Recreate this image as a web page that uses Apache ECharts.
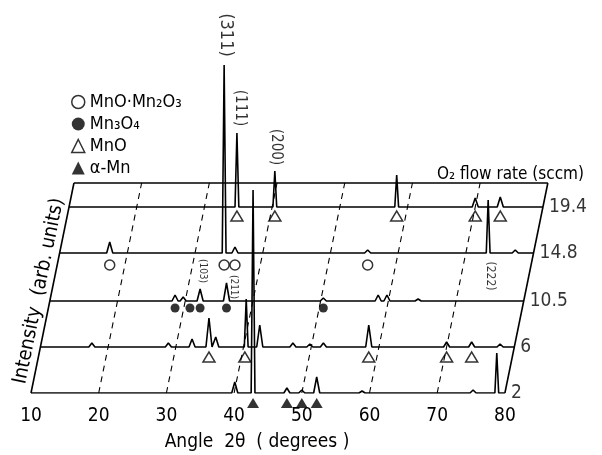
<!DOCTYPE html>
<html>
<head>
<meta charset="utf-8">
<script src="https://cdn.jsdelivr.net/npm/echarts@6/dist/echarts.min.js"></script>
<style>
html, body { margin: 0; padding: 0; background: #fff; }
#xrd { width: 602px; height: 455px; }
</style>
</head>
<body>
<div id="xrd"></div>
<script>
// 2θ ticks on the front pattern and the dashed guide lines
const angleTicks = [10, 20, 30, 40, 50, 60, 70, 80];
const guideAngles = [20, 30, 40, 50, 60, 70];

// O2 flow rates (sccm), front to back, and the baseline of each pattern (arb. units)
const flowRates = ['2', '6', '10.5', '14.8', '19.4'];
const baseLevels = [0, 46, 92, 140, 186];
const backLevel = 210;

// peaks [2θ, height]
const peaks2 = [[40.1, 11], [42.8, 203], [47.8, 5], [50.0, 3], [52.2, 16], [58.9, 2], [75.3, 3], [78.8, 40]];
const peaks6 = [[17.6, 4], [28.9, 4], [32.4, 8], [34.9, 29], [35.9, 10], [40.4, 48], [42.4, 22], [47.3, 4],
  [49.8, 3], [51.8, 4], [58.5, 22], [70.0, 5], [73.7, 5], [77.9, 3]];
const peaks10 = [[28.5, 6], [29.7, 4], [32.2, 12], [36.1, 18], [50.4, 3], [58.5, 6], [59.8, 6], [64.4, 2]];
const peaks14 = [[17.4, 11], [34.3, 188], [35.9, 6], [55.5, 3], [73.3, 53], [77.3, 3]];
const peaks19 = [[34.8, 74], [40.4, 36], [58.4, 32], [70.0, 9], [73.7, 10]];
const allPeaks = [peaks2, peaks6, peaks10, peaks14, peaks19];

// phase markers: 2θ of marked peaks, by pattern
const mnoMn2o3At = [17.4, 34.3, 35.9, 55.5];        // 14.8 sccm
const mn3o4At = [28.5, 30.7, 32.2, 36.1, 50.4];      // 10.5 sccm
const mnoAt19 = [34.8, 40.4, 58.4, 70.0, 73.7];      // 19.4 sccm
const mnoAt6 = [34.9, 40.2, 58.5, 70.0, 73.7];       // 6 sccm
const alphaMnAt = [42.8, 47.8, 50.0, 52.2];          // 2 sccm

// reflection labels: [text, 2θ, pattern index, height]
const hklNotes = [
  ['(311)', 34.6, 3, 218],
  ['(111)', 35.2, 4, 99],
  ['(200)', 40.5, 4, 60],
  ['(103)', 32.5, 2, 30],
  ['(211)', 37.1, 2, 14],
  ['(222)', 73.6, 3, -23]
];
const hklSizes = [18, 15, 15, 10, 10, 12];

const SHEAR = 0.0302; // 2θ shift per unit of height (oblique drawing)
const FONT = '"DejaVu Sans Condensed", "Liberation Sans Narrow", "DejaVu Sans", sans-serif';

function sx(angle, level) {
  return angle + level * SHEAR;
}

function pattern(peaks, level) {
  const pts = [[sx(10, level), level]];
  peaks.forEach(([a, h]) => {
    const w = h > 30 ? 0.28 : 0.45;
    pts.push([sx(a - w, level), level], [sx(a, level), level + h], [sx(a + w, level), level]);
  });
  pts.push([sx(80, level), level]);
  return pts;
}

function markers(list, level, drop) {
  return list.map((a) => [sx(a, baseLevels[level]), baseLevels[level] - drop]);
}

const series = [];

allPeaks.forEach((p, i) => {
  series.push({
    type: 'line', data: pattern(p, baseLevels[i]), symbol: 'none', silent: true,
    lineStyle: { color: '#000', width: 1.6 }
  });
});

// back edge and side edges of the sheet
[
  [[sx(10, backLevel), backLevel], [sx(80, backLevel), backLevel]],
  [[10, 0], [sx(10, backLevel), backLevel]],
  [[80, 0], [sx(80, backLevel), backLevel]]
].forEach((d) => {
  series.push({ type: 'line', data: d, symbol: 'none', silent: true, lineStyle: { color: '#000', width: 1.6 } });
});

guideAngles.forEach((a) => {
  series.push({
    type: 'line', data: [[a, 0], [sx(a, backLevel), backLevel]], symbol: 'none', silent: true,
    lineStyle: { color: '#000', width: 1.1, type: [6, 5] }
  });
});

const hollow = { color: '#fff', borderColor: '#000', borderWidth: 1.5 };
const solid = { color: '#000' };
series.push(
  { name: 'MnO·Mn₂O₃', type: 'scatter', symbol: 'circle', symbolSize: 10, itemStyle: hollow, clip: false,
    data: markers(mnoMn2o3At, 3, 12) },
  { name: 'Mn₃O₄', type: 'scatter', symbol: 'circle', symbolSize: 9, itemStyle: solid, clip: false,
    data: markers(mn3o4At, 2, 7) },
  { name: 'MnO', type: 'scatter', symbol: 'triangle', symbolSize: [12, 10], itemStyle: hollow, clip: false,
    data: markers(mnoAt19, 4, 9).concat(markers(mnoAt6, 1, 10)) },
  { name: 'α-Mn', type: 'scatter', symbol: 'triangle', symbolSize: [12, 10], itemStyle: solid, clip: false,
    data: markers(alphaMnAt, 0, 10) }
);

// flow-rate labels at the right end of each pattern
series.push({
  type: 'scatter', symbolSize: 0, clip: false, silent: true,
  data: flowRates.map((f, i) => ({ value: [sx(80, baseLevels[i]), baseLevels[i]], name: f })),
  label: { show: true, position: 'right', distance: 6, formatter: '{b}', color: '#000',
    fontSize: 19, fontFamily: FONT }
});

// Miller indices, written vertically
series.push({
  type: 'scatter', symbolSize: 0, clip: false, silent: true,
  data: hklNotes.map(([t, a, i, h], j) => ({
    value: [sx(a, baseLevels[i]), baseLevels[i] + h], name: t,
    label: { fontSize: hklSizes[j] }
  })),
  label: { show: true, position: 'inside', rotate: -90, formatter: '{b}', color: '#000', fontFamily: FONT }
});

const chart = echarts.init(document.getElementById('xrd'));
chart.setOption({
  animation: false,
  grid: { left: 31, right: 29.4, top: 0, bottom: 62 },
  xAxis: {
    type: 'value', min: 10, max: 90, interval: 10,
    axisLine: { show: false }, axisTick: { show: false }, splitLine: { show: false },
    axisLabel: {
      margin: 14, color: '#000', fontSize: 19, fontFamily: FONT,
      formatter: (v) => (angleTicks.includes(v) ? String(v) : '')
    }
  },
  yAxis: { type: 'value', min: 0, max: 393, show: false },
  legend: {
    orient: 'vertical', left: 66, top: 88, itemWidth: 13, itemHeight: 13, itemGap: 4,
    selectedMode: false,
    textStyle: { fontSize: 18, fontFamily: FONT, color: '#000', lineHeight: 13 },
    data: [
      { name: 'MnO·Mn₂O₃', icon: 'circle', itemStyle: hollow },
      { name: 'Mn₃O₄', icon: 'circle', itemStyle: solid },
      { name: 'MnO', icon: 'triangle', itemStyle: hollow },
      { name: 'α-Mn', icon: 'triangle', itemStyle: solid }
    ]
  },
  graphic: [
    { type: 'text', x: 257, y: 442, style: { text: 'Angle  2θ  ( degrees )', font: '19px ' + FONT,
      fill: '#000', align: 'center', verticalAlign: 'middle' } },
    { type: 'text', x: 39, y: 291, rotation: 1.368, style: { text: 'Intensity  (arb. units)', font: '20px ' + FONT,
      fill: '#000', align: 'center', verticalAlign: 'middle' } },
    { type: 'text', x: 437, y: 175, style: { text: 'O₂ flow rate (sccm)', font: '17px ' + FONT,
      fill: '#000', align: 'left', verticalAlign: 'middle' } }
  ],
  series: series
});
</script>
</body>
</html>
